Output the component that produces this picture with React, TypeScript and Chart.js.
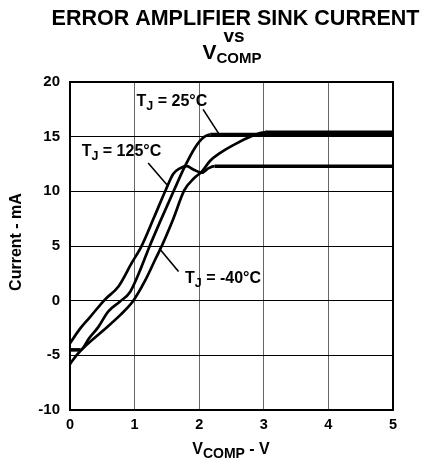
import { useEffect, useRef } from "react";
import { Chart, registerables } from "chart.js";

Chart.register(...registerables);

const FONT = '"Liberation Sans", Arial, Helvetica, sans-serif';

// Axis ranges / ticks
const xMin = 0;
const xMax = 5;
const xStep = 1;
const yMin = -10;
const yMax = 20;
const yStep = 5;

// TJ = 125°C
const v125 = [0, 0.15, 0.31, 0.54, 0.75, 0.96, 1.1, 1.3, 1.48, 1.6, 1.7, 1.81, 1.91, 2.04, 2.14, 2.24, 5];
const i125 = [-3.9, -2.6, -1.5, 0.1, 1.3, 3.5, 4.9, 7.6, 10.1, 11.6, 12.1, 12.3, 12.0, 11.7, 12.1, 12.3, 12.3];

// TJ = 25°C
const v25 = [0, 0.16, 0.3, 0.44, 0.59, 0.77, 0.93, 1.1, 1.22, 1.4, 1.61, 1.78, 1.93, 2.06, 2.17, 2.3, 5];
const i25 = [-4.5, -4.5, -3.4, -2.4, -1.0, -0.1, 0.8, 3.0, 4.8, 7.3, 10.1, 12.3, 13.95, 14.9, 15.2, 15.2, 15.2];

// TJ = -40°C
const vm40 = [0, 0.1, 0.23, 0.5, 0.78, 0.98, 1.16, 1.33, 1.42, 1.6, 1.77, 1.92, 2.04, 2.17, 2.32, 2.55, 2.79, 3.02, 5];
const im40 = [-5.8, -5.0, -4.2, -2.8, -1.3, 0.0, 1.8, 3.9, 5.0, 7.5, 10.1, 11.2, 11.8, 12.8, 13.5, 14.3, 15.0, 15.4, 15.4];

// Curve labels (T_J = ...) in data units: text anchor, leader line start / end
const labelTexts = [" = 25°C", " = 125°C", " = -40°C"];
const labelAnchorV = [1.03, 0.18, 1.78];
const labelAnchorI = [17.8, 13.2, 1.65];
const leaderFromV = [2.06, 1.21, 1.68];
const leaderFromI = [17.5, 12.6, 2.66];
const leaderToV = [2.3, 1.5, 1.38];
const leaderToI = [15.3, 10.6, 4.8];

const titleLine1 = "ERROR AMPLIFIER SINK CURRENT";
const titleLine2 = "vs";
const xTitleMain = "V";
const xTitleSub = "COMP";
const xTitleTail = " - V";
const yTitle = "Current - mA";

type Part = { t: string; size: number; dy?: number };

function drawParts(ctx: CanvasRenderingContext2D, parts: Part[], x: number, y: number, align: "left" | "center") {
  let total = 0;
  const widths = parts.map((p) => {
    ctx.font = `bold ${p.size}px ${FONT}`;
    const w = ctx.measureText(p.t).width;
    total += w;
    return w;
  });
  let cx = align === "center" ? x - total / 2 : x;
  ctx.textAlign = "left";
  ctx.textBaseline = "alphabetic";
  parts.forEach((p, i) => {
    ctx.font = `bold ${p.size}px ${FONT}`;
    ctx.fillText(p.t, cx, y + (p.dy || 0));
    cx += widths[i];
  });
}

const textPlugin = {
  id: "texts",
  afterDraw(chart: any) {
    const ctx: CanvasRenderingContext2D = chart.ctx;
    const { left, right, top, bottom } = chart.chartArea;
    const xs = chart.scales.x;
    const ys = chart.scales.y;
    ctx.save();
    // frame
    ctx.strokeStyle = "#000";
    ctx.lineWidth = 2;
    ctx.strokeRect(left, top, right - left, bottom - top);

    ctx.fillStyle = "#000";
    // title
    drawParts(ctx, [{ t: titleLine1, size: 21.5 }], 235.5, 25, "center");
    drawParts(ctx, [{ t: titleLine2, size: 19 }], 234, 42, "center");
    drawParts(ctx, [{ t: xTitleMain, size: 21 }, { t: xTitleSub, size: 15, dy: 4 }], 232, 59, "center");

    // x axis title
    drawParts(
      ctx,
      [{ t: xTitleMain, size: 16 }, { t: xTitleSub, size: 14, dy: 4 }, { t: xTitleTail, size: 16 }],
      231,
      454,
      "center"
    );

    // y axis title
    ctx.save();
    ctx.translate(21, 242);
    ctx.rotate(-Math.PI / 2);
    drawParts(ctx, [{ t: yTitle, size: 16 }], 0, 0, "center");
    ctx.restore();

    // curve labels + leader lines
    ctx.strokeStyle = "#000";
    ctx.lineWidth = 1.6;
    for (let k = 0; k < labelTexts.length; k++) {
      const px = xs.getPixelForValue(labelAnchorV[k]);
      const py = ys.getPixelForValue(labelAnchorI[k]);
      drawParts(ctx, [{ t: "T", size: 16 }, { t: "J", size: 12.5, dy: 4 }, { t: labelTexts[k], size: 16 }], px, py, "left");
      ctx.beginPath();
      ctx.moveTo(xs.getPixelForValue(leaderFromV[k]), ys.getPixelForValue(leaderFromI[k]));
      ctx.lineTo(xs.getPixelForValue(leaderToV[k]), ys.getPixelForValue(leaderToI[k]));
      ctx.stroke();
    }
    ctx.restore();
  },
};

function toPoints(v: number[], c: number[]) {
  return v.map((x, i) => ({ x, y: c[i] }));
}

export default function App() {
  const ref = useRef<HTMLCanvasElement | null>(null);
  useEffect(() => {
    if (!ref.current) return;
    const lineStyle = {
      borderColor: "#000",
      borderWidth: 2.7,
      pointRadius: 0,
      fill: false,
      cubicInterpolationMode: "monotone" as const,
      segment: {
        borderWidth: (c: any) => (Math.abs(c.p0.parsed.y - c.p1.parsed.y) < 0.01 ? 3.6 : 2.7),
      },
    };
    const chart = new Chart(ref.current, {
      type: "line",
      data: {
        datasets: [
          { label: "TJ = 125°C", data: toPoints(v125, i125), ...lineStyle },
          { label: "TJ = 25°C", data: toPoints(v25, i25), ...lineStyle },
          { label: "TJ = -40°C", data: toPoints(vm40, im40), ...lineStyle },
        ],
      },
      options: {
        animation: false,
        responsive: false,
        layout: { padding: { left: 0, right: 40, top: 82, bottom: 0 } },
        plugins: { legend: { display: false }, tooltip: { enabled: false }, title: { display: false } },
        scales: {
          x: {
            type: "linear",
            min: xMin,
            max: xMax,
            ticks: { stepSize: xStep, color: "#000", padding: 6, font: { family: FONT, size: 14.5, weight: "bold" } },
            grid: { color: "#666", lineWidth: 1, drawTicks: false },
            border: { display: true, color: "#000", width: 2 },
            afterFit: (s: any) => {
              s.height = 50;
            },
          },
          y: {
            type: "linear",
            min: yMin,
            max: yMax,
            ticks: { stepSize: yStep, color: "#000", padding: 10, font: { family: FONT, size: 15, weight: "bold" } },
            grid: { color: "#000", lineWidth: 1, drawTicks: false },
            border: { display: true, color: "#000", width: 2 },
            afterFit: (s: any) => {
              s.width = 70;
            },
          },
        },
      },
      plugins: [textPlugin],
    });
    return () => chart.destroy();
  }, []);
  return (
    <div style={{ position: "absolute", left: 0, top: 0, width: 433, height: 460, background: "#fff" }}>
      <canvas ref={ref} width={433} height={460} style={{ display: "block", width: 433, height: 460 }} />
    </div>
  );
}
